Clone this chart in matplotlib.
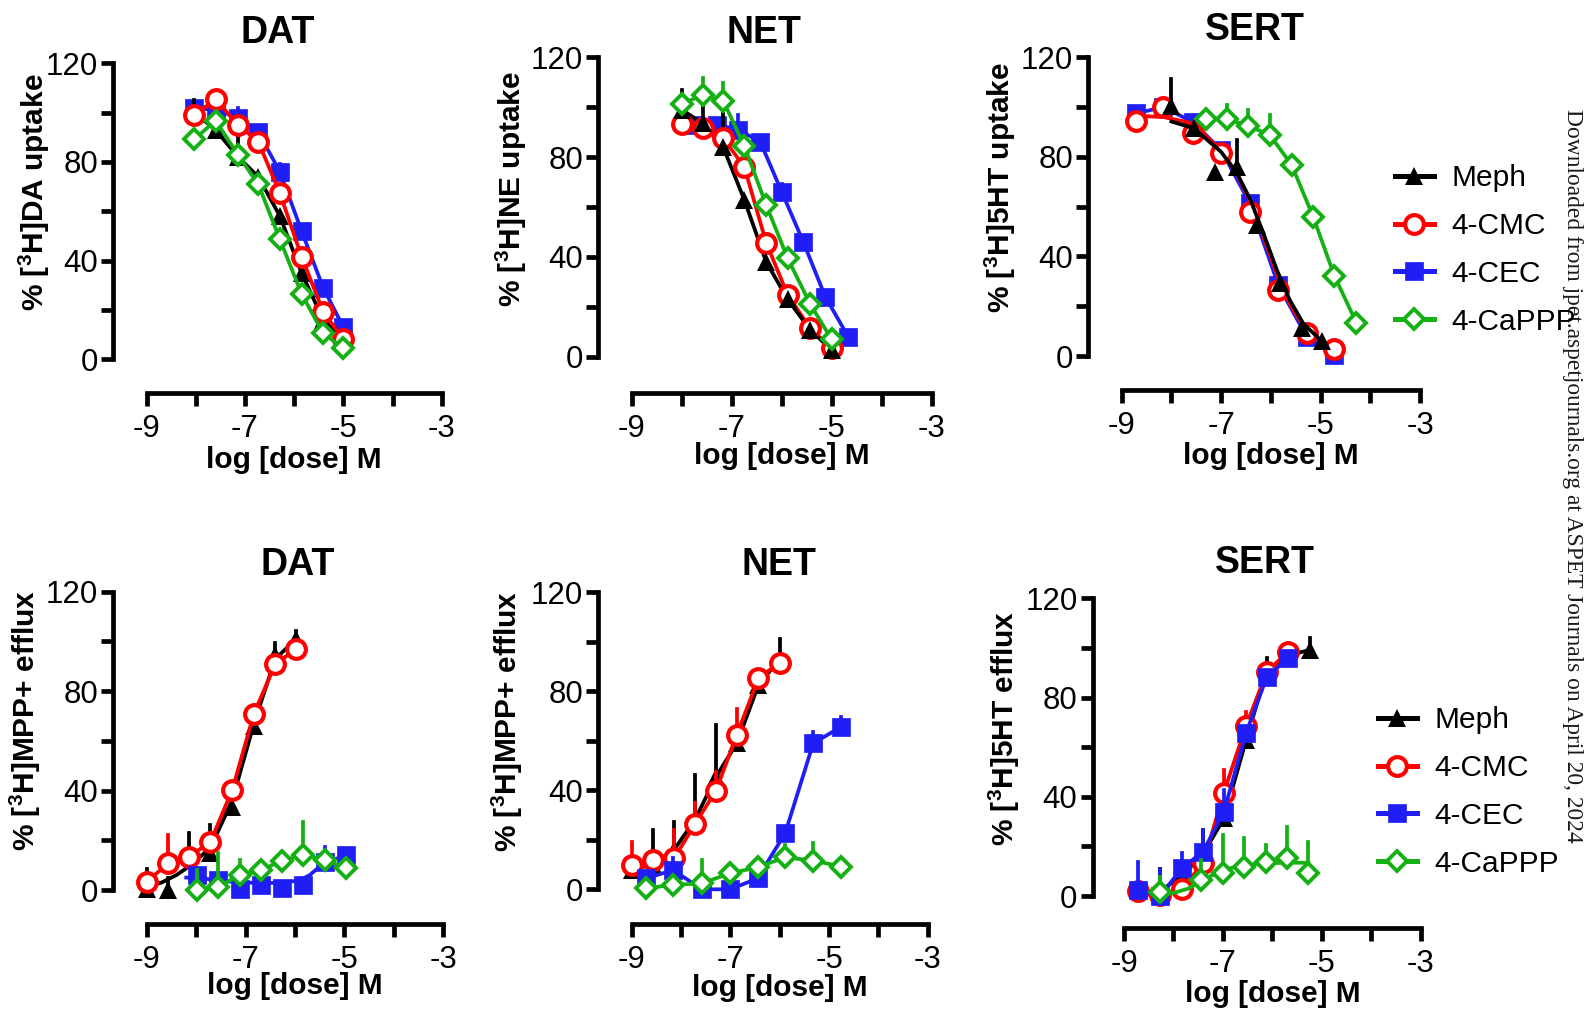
import matplotlib
matplotlib.use("Agg")
import matplotlib.pyplot as plt
from matplotlib.lines import Line2D

plt.rcParams['font.family'] = ['Liberation Sans', 'DejaVu Sans']
plt.rcParams['mathtext.fontset'] = 'custom'
plt.rcParams['mathtext.rm'] = 'Liberation Sans'
plt.rcParams['mathtext.bf'] = 'Liberation Sans:bold'

W, H, DPI = 1586, 1010, 100

# ---------------- data ----------------
# DAT uptake
DAT_UP_DOSE = [-8.03, -7.6, -7.14, -6.73, -6.29, -5.85, -5.41, -5.0]
DAT_UP_MEPH = [100, 93, 82, 74, 58, 35, 16, 8]
DAT_UP_MEPH_ERR = [5, 15, 8, 0, 0, 0, 0, 0]
DAT_UP_CMC = [99, 105.4, 95, 88.2, 67.3, 41.6, 19.3, 8.1]
DAT_UP_CMC_ERR = [0, 3, 0, 0, 0, 0, 0, 0]
DAT_UP_CEC = [102, 101, 98, 92, 76, 52, 29, 13]
DAT_UP_CEC_ERR = [0, 0, 4, 0, 3, 0, 0, 0]
DAT_UP_CAPPP = [89.2, 96.8, 82.8, 70.9, 48.6, 26.5, 10.5, 4.5]
DAT_UP_CAPPP_ERR = [0, 0, 0, 0, 0, 0, 0, 0]

# NET uptake
NET_UP_DOSE = [-8.0, -7.58, -7.17, -6.75, -6.31, -5.88, -5.43, -5.0]
NET_UP_MEPH = [99, 93.5, 84, 63, 38, 23, 10.7, 2.7]
NET_UP_MEPH_ERR = [8, 6.5, 15, 0, 0, 5, 0, 0]
NET_UP_CMC = [93.3, 91.5, 87.5, 76.2, 45.7, 24.7, 11.4, 3.3]
NET_UP_CMC_ERR = [0, 0, 0, 0, 0, 0, 0, 0]
NET_UP_CEC_DOSE = [-7.73, -7.3, -6.87, -6.43, -6.0, -5.57, -5.13, -4.67]
NET_UP_CEC = [93, 93, 91, 86.2, 66.1, 46.1, 24.1, 8.0]
NET_UP_CEC_ERR = [0, 0, 6, 0, 3, 0, 0, 0]
NET_UP_CAPPP = [101.3, 104.9, 102.6, 84.6, 60.8, 39.4, 21.1, 6.9]
NET_UP_CAPPP_ERR = [0, 6.7, 7, 0, 0, 0, 0, 0]

# SERT uptake
SERT_UP_DOSE = [-8.71, -8.16, -7.57, -7.0, -6.42, -5.85, -5.28, -4.73]
SERT_UP_MEPH_DOSE = [-8.0, -7.55, -7.12, -6.69, -6.27, -5.81, -5.38, -4.97]
SERT_UP_MEPH = [100.4, 91.5, 74.1, 76.1, 52.6, 29.2, 11.1, 6.2]
SERT_UP_MEPH_ERR = [11, 0, 0, 10.7, 0, 0, 0, 0]
SERT_UP_MEPH_FIT_X = [-8.0, -7.55, -7.0, -6.68, -6.41, -6.15, -5.88, -5.62, -5.35, -4.97]
SERT_UP_MEPH_FIT_Y = [94.2, 91.5, 82, 73.4, 62.7, 49.3, 34.6, 22.5, 13.1, 5.8]
SERT_UP_CMC = [94.6, 99.9, 89.7, 81.4, 58.0, 26.5, 9.1, 2.7]
SERT_UP_CMC_ERR = [0, 0, 0, 0, 0, 0, 0, 0]
SERT_UP_CMC_FIT_X = [-8.71, -8.16, -7.57, -7.0, -6.68, -6.41, -6.15, -5.88, -5.62, -5.35, -5.0, -4.73]
SERT_UP_CMC_FIT_Y = [96.5, 96, 93.5, 82.5, 73, 62, 48, 33, 21, 12, 6, 3]
SERT_UP_CEC = [97.5, 100, 94, 82.8, 61.3, 28.5, 7.8, 0.4]
SERT_UP_CEC_ERR = [0, 0, 0, 0, 0, 0, 0, 0]
SERT_UP_CAPPP_DOSE = [-7.30, -6.88, -6.45, -6.02, -5.58, -5.15, -4.72, -4.28]
SERT_UP_CAPPP = [95.1, 95.1, 92.4, 88.8, 76.7, 56.0, 32.1, 13.4]
SERT_UP_CAPPP_ERR = [0, 5.7, 6.4, 8, 0, 0, 0, 0]

# DAT efflux
DAT_EF_DOSE = [-9.0, -8.56, -8.14, -7.71, -7.27, -6.83, -6.40, -5.97]
DAT_EF_MEPH = [0.5, 0, 14, 15, 33.5, 66, 94.5, 101]
DAT_EF_MEPH_ERR = [8, 5, 9, 11, 0, 8, 5, 3]
DAT_EF_MEPH_FIT_X = [-9.0, -8.7, -8.4, -8.14, -7.71, -7.27, -6.83, -6.40, -5.97]
DAT_EF_MEPH_FIT_Y = [1.3, 3, 6, 9.5, 17, 36, 67, 93, 101]
DAT_EF_CMC = [3.4, 10.7, 13.4, 19.4, 40.2, 71.0, 90.8, 97.1]
DAT_EF_CMC_ERR = [0, 11.4, 0, 0, 0, 0, 0, 0]
DAT_EF_LOW_DOSE = [-7.99, -7.55, -7.12, -6.69, -6.26, -5.84, -5.40, -4.96]
DAT_EF_CEC = [6, 4, 0.5, 2, 1, 2, 11.4, 14]
DAT_EF_CEC_ERR = [0, 0, 0, 0, 0, 0, 6, 0]
DAT_EF_CEC_FIT_X = [-8.2, -7.8, -7.4, -7.0, -6.6, -6.2, -5.9, -5.7, -5.5, -5.3, -4.96]
DAT_EF_CEC_FIT_Y = [5, 4.5, 3.5, 3, 2.8, 3, 4, 6, 9.5, 12, 13.5]
DAT_EF_CAPPP = [0, 1.3, 6, 8, 11.8, 14, 12.1, 8.8]
DAT_EF_CAPPP_ERR = [8, 13.4, 6, 0, 0, 13.5, 0, 0]

# NET efflux
NET_EF_DOSE = [-9.0, -8.57, -8.14, -7.72, -7.29, -6.87, -6.43, -6.0]
NET_EF_MEPH = [8, 10, 16, 28, 45.5, 59, 82.6, 93]
NET_EF_MEPH_ERR = [0, 14, 11, 18, 21, 0, 4, 8]
NET_EF_CMC = [9.8, 11.9, 12.5, 26.3, 39.9, 62.4, 85.3, 91.6]
NET_EF_CMC_ERR = [9.5, 0, 11.5, 8.4, 7.6, 10.6, 0, 0]
NET_EF_LOW_DOSE = [-8.71, -8.16, -7.58, -7.0, -6.45, -5.89, -5.32, -4.75]
NET_EF_CEC = [4.4, 7.8, 0, 0, 4.4, 22.6, 59, 65.7]
NET_EF_CEC_ERR = [0, 5, 0, 0, 0, 0, 4.7, 4]
NET_EF_CAPPP = [0.4, 1.8, 2.4, 6.5, 8.9, 12.9, 11.6, 9.2]
NET_EF_CAPPP_ERR = [0, 0, 9.5, 0, 0, 5, 7, 0]

# SERT efflux
SERT_EF_DOSE = [-8.71, -8.27, -7.83, -7.40, -6.98, -6.53, -6.11, -5.68]
SERT_EF_MEPH_DOSE = [-8.27, -7.83, -7.40, -6.98, -6.53, -6.11, -5.68, -5.24]
SERT_EF_MEPH = [2, 8, 17, 31.3, 62.9, 91, 97, 99.2]
SERT_EF_MEPH_ERR = [9, 0, 9.6, 0, 0, 5, 0, 4.7]
SERT_EF_CMC = [2.1, 0.5, 3, 13.2, 41.7, 68.7, 90.4, 98.5]
SERT_EF_CMC_ERR = [0, 0, 0, 3, 9, 5.6, 0, 0]
SERT_EF_CEC = [2.4, 0, 11.2, 17.9, 34, 65.8, 88.4, 95.8]
SERT_EF_CEC_ERR = [11.4, 10.5, 6, 8.7, 8.7, 0, 0, 0]
SERT_EF_CAPPP_DOSE = [-8.28, -7.45, -7.0, -6.57, -6.13, -5.71, -5.27]
SERT_EF_CAPPP = [1.7, 6.4, 9.1, 11.8, 13.8, 15.2, 9.1]
SERT_EF_CAPPP_ERR = [6, 8, 15.5, 11.4, 6.8, 12.7, 12.8]
SERT_EF_CAPPP_FIT_X = [-8.28, -8.0, -7.7, -7.45, -7.0, -6.57, -6.13, -5.71, -5.27]
SERT_EF_CAPPP_FIT_Y = [0.5, 1.2, 3, 6, 10.5, 12.5, 13.2, 13.4, 13.4]

COMPOUNDS = ['Meph', '4-CMC', '4-CEC', '4-CaPPP']
X_TICKS = [-9, -8, -7, -6, -5, -4, -3]
X_TICK_LABELS = ['-9', '', '-7', '', '-5', '', '-3']
Y_TICKS = [0, 20, 40, 60, 80, 100, 120]
Y_TICK_LABELS = ['0', '', '40', '', '80', '', '120']

# ---------------- styles ----------------
STYLE = {
  'Meph':    dict(color='black',   marker='^', ms=13.0, mfc='black',   mew=0.0),
  '4-CMC':   dict(color='#ff0000', marker='o', ms=13.5, mfc='white',   mew=3.0),
  '4-CEC':   dict(color='#1f1ff5', marker='s', ms=13.5, mfc='#1f1ff5', mew=0.5),
  '4-CaPPP': dict(color='#14b014', marker='D', ms=10.0, mfc='white',   mew=2.8),
}
LW = 2.7
TICK_FS = 22.5
LABEL_FS = 21.5
TITLE_FS = 27

fig = plt.figure(figsize=(W / DPI, H / DPI), dpi=DPI)


def make_axes(x9, x3, y0, y120, yspine, xline):
  ax = fig.add_axes([x9 / W, 1 - y0 / H, (x3 - x9) / W, (y0 - y120) / H])
  ax.patch.set_alpha(0)
  ax.set_xlim(-9, -3)
  ax.set_ylim(0, 120)
  for s in ['top', 'right']:
    ax.spines[s].set_visible(False)
  ax.spines['left'].set_position(('outward', (x9 - yspine) * 72 / DPI))
  ax.spines['bottom'].set_position(('outward', (xline - y0) * 72 / DPI))
  ax.spines['left'].set_bounds(0, 120)
  ax.spines['bottom'].set_bounds(-9, -3)
  for s in ['left', 'bottom']:
    ax.spines[s].set_linewidth(3.4)
    ax.spines[s].set_capstyle('projecting')
  ax.set_xticks(X_TICKS)
  ax.set_xticklabels(X_TICK_LABELS)
  ax.set_yticks(Y_TICKS)
  ax.set_yticklabels(Y_TICK_LABELS)
  ax.tick_params(axis='both', width=3.4, length=9, labelsize=TICK_FS)
  ax.tick_params(axis='x', pad=6)
  ax.tick_params(axis='y', pad=2)
  return ax


def draw_series(ax, name, x, y, err, z, fit=None):
  st = STYLE[name]
  c = st['color']
  lx, ly = fit if fit is not None else (x, y)
  ax.plot(lx, ly, color=c, lw=LW, zorder=z, clip_on=False)
  for xi, yi, ei in zip(x, y, err):
    if ei > 0:
      ax.plot([xi, xi], [yi, yi + ei], color=c, lw=LW, zorder=z, clip_on=False)
  ax.plot(x, y, ls='none', marker=st['marker'], ms=st['ms'], mfc=st['mfc'],
          mec=c, mew=st['mew'], zorder=z + 0.5, clip_on=False)


def add_legend(x_left, y_center):
  handles = []
  for name in COMPOUNDS:
    st = STYLE[name]
    handles.append(Line2D([], [], color=st['color'], lw=3.6, marker=st['marker'],
                          ms=st['ms'], mfc=st['mfc'], mec=st['color'], mew=st['mew']))
  fig.legend(handles, COMPOUNDS, loc='center left',
             bbox_to_anchor=(x_left / W, 1 - y_center / H),
             frameon=False, fontsize=21.5, handlelength=1.3, handletextpad=0.6,
             labelspacing=0.66, borderpad=0, borderaxespad=0)


def fig_text(x, y, s, **kw):
  return fig.text(x / W, 1 - y / H, s, **kw)


# ---------------- panels ----------------
# A: DAT uptake
ax = make_axes(146.7, 441.7, 359.3, 63.3, 113.3, 393.3)
draw_series(ax, 'Meph', DAT_UP_DOSE, DAT_UP_MEPH, DAT_UP_MEPH_ERR, 3)
draw_series(ax, '4-CMC', DAT_UP_DOSE, DAT_UP_CMC, DAT_UP_CMC_ERR, 4)
draw_series(ax, '4-CEC', DAT_UP_DOSE, DAT_UP_CEC, DAT_UP_CEC_ERR, 2)
draw_series(ax, '4-CaPPP', DAT_UP_DOSE, DAT_UP_CAPPP, DAT_UP_CAPPP_ERR, 5)
fig_text(277.5, 43.3, 'DAT', ha='center', va='baseline', fontsize=TITLE_FS, fontweight='bold')
fig_text(34, 192.5, r'% [$\mathbf{^3}$H]DA uptake', rotation=90, ha='center', va='center',
         fontsize=LABEL_FS, fontweight='bold')
fig_text(294, 460, 'log [dose] M', ha='center', va='center', fontsize=LABEL_FS, fontweight='bold')

# B: NET uptake
ax = make_axes(631.7, 931.7, 356.7, 57.3, 598.3, 392.7)
draw_series(ax, 'Meph', NET_UP_DOSE, NET_UP_MEPH, NET_UP_MEPH_ERR, 3)
draw_series(ax, '4-CMC', NET_UP_DOSE, NET_UP_CMC, NET_UP_CMC_ERR, 2.5)
draw_series(ax, '4-CEC', NET_UP_CEC_DOSE, NET_UP_CEC, NET_UP_CEC_ERR, 2)
draw_series(ax, '4-CaPPP', NET_UP_DOSE, NET_UP_CAPPP, NET_UP_CAPPP_ERR, 5)
fig_text(764, 43.3, 'NET', ha='center', va='baseline', fontsize=TITLE_FS, fontweight='bold')
fig_text(511.7, 189, r'% [$\mathbf{^3}$H]NE uptake', rotation=90, ha='center', va='center',
         fontsize=LABEL_FS, fontweight='bold')
fig_text(781.7, 456, 'log [dose] M', ha='center', va='center', fontsize=LABEL_FS, fontweight='bold')

# C: SERT uptake
ax = make_axes(1121.7, 1420, 356, 57.3, 1088.3, 390)
draw_series(ax, '4-CEC', SERT_UP_DOSE, SERT_UP_CEC, SERT_UP_CEC_ERR, 2)
draw_series(ax, '4-CMC', SERT_UP_DOSE, SERT_UP_CMC, SERT_UP_CMC_ERR, 3,
            fit=(SERT_UP_CMC_FIT_X, SERT_UP_CMC_FIT_Y))
draw_series(ax, 'Meph', SERT_UP_MEPH_DOSE, SERT_UP_MEPH, SERT_UP_MEPH_ERR, 4,
            fit=(SERT_UP_MEPH_FIT_X, SERT_UP_MEPH_FIT_Y))
draw_series(ax, '4-CaPPP', SERT_UP_CAPPP_DOSE, SERT_UP_CAPPP, SERT_UP_CAPPP_ERR, 5)
fig_text(1254.5, 40, 'SERT', ha='center', va='baseline', fontsize=TITLE_FS, fontweight='bold')
fig_text(1000, 188, r'% [$\mathbf{^3}$H]5HT uptake', rotation=90, ha='center', va='center',
         fontsize=LABEL_FS, fontweight='bold')
fig_text(1271, 456, 'log [dose] M', ha='center', va='center', fontsize=LABEL_FS, fontweight='bold')
add_legend(1395, 250)

# D: DAT efflux
ax = make_axes(146.7, 443.3, 890, 591.7, 113.3, 924)
draw_series(ax, 'Meph', DAT_EF_DOSE, DAT_EF_MEPH, DAT_EF_MEPH_ERR, 2,
            fit=(DAT_EF_MEPH_FIT_X, DAT_EF_MEPH_FIT_Y))
draw_series(ax, '4-CMC', DAT_EF_DOSE, DAT_EF_CMC, DAT_EF_CMC_ERR, 3)
draw_series(ax, '4-CEC', DAT_EF_LOW_DOSE, DAT_EF_CEC, DAT_EF_CEC_ERR, 4,
            fit=(DAT_EF_CEC_FIT_X, DAT_EF_CEC_FIT_Y))
draw_series(ax, '4-CaPPP', DAT_EF_LOW_DOSE, DAT_EF_CAPPP, DAT_EF_CAPPP_ERR, 5)
fig_text(297.5, 575, 'DAT', ha='center', va='baseline', fontsize=TITLE_FS, fontweight='bold')
fig_text(25, 720.5, r'% [$\mathbf{^3}$H]MPP+ efflux', rotation=90, ha='center', va='center',
         fontsize=LABEL_FS, fontweight='bold')
fig_text(295, 986, 'log [dose] M', ha='center', va='center', fontsize=LABEL_FS, fontweight='bold')

# E: NET efflux
ax = make_axes(631.7, 927.7, 889.3, 592.3, 598.3, 924.3)
draw_series(ax, 'Meph', NET_EF_DOSE, NET_EF_MEPH, NET_EF_MEPH_ERR, 2)
draw_series(ax, '4-CMC', NET_EF_DOSE, NET_EF_CMC, NET_EF_CMC_ERR, 3)
draw_series(ax, '4-CEC', NET_EF_LOW_DOSE, NET_EF_CEC, NET_EF_CEC_ERR, 4)
draw_series(ax, '4-CaPPP', NET_EF_LOW_DOSE, NET_EF_CAPPP, NET_EF_CAPPP_ERR, 5)
fig_text(779, 575, 'NET', ha='center', va='baseline', fontsize=TITLE_FS, fontweight='bold')
fig_text(507, 722, r'% [$\mathbf{^3}$H]MPP+ efflux', rotation=90, ha='center', va='center',
         fontsize=LABEL_FS, fontweight='bold')
fig_text(780, 988, 'log [dose] M', ha='center', va='center', fontsize=LABEL_FS, fontweight='bold')

# F: SERT efflux
ax = make_axes(1124, 1420.7, 896, 598.3, 1092.7, 928.3)
draw_series(ax, 'Meph', SERT_EF_MEPH_DOSE, SERT_EF_MEPH, SERT_EF_MEPH_ERR, 2)
draw_series(ax, '4-CMC', SERT_EF_DOSE, SERT_EF_CMC, SERT_EF_CMC_ERR, 3)
draw_series(ax, '4-CEC', SERT_EF_DOSE, SERT_EF_CEC, SERT_EF_CEC_ERR, 4)
draw_series(ax, '4-CaPPP', SERT_EF_CAPPP_DOSE, SERT_EF_CAPPP, SERT_EF_CAPPP_ERR, 5,
            fit=(SERT_EF_CAPPP_FIT_X, SERT_EF_CAPPP_FIT_Y))
fig_text(1265, 573, 'SERT', ha='center', va='baseline', fontsize=TITLE_FS, fontweight='bold')
fig_text(1004, 728, r'% [$\mathbf{^3}$H]5HT efflux', rotation=90, ha='center', va='center',
         fontsize=LABEL_FS, fontweight='bold')
fig_text(1273, 994, 'log [dose] M', ha='center', va='center', fontsize=LABEL_FS, fontweight='bold')
add_legend(1378, 792)

# watermark down the right edge
wm = fig_text(1572, 475.5, 'Downloaded from jpet.aspetjournals.org at ASPET Journals on April 20, 2024',
              rotation=-90, ha='center', va='center', fontsize=16, color='#1a1a1a',
              family=['Liberation Serif', 'DejaVu Serif'])
fig.canvas.draw()
bb = wm.get_window_extent()
wm.set_fontsize(16 * 735 / bb.height)

fig.savefig('out.png', dpi=DPI)
